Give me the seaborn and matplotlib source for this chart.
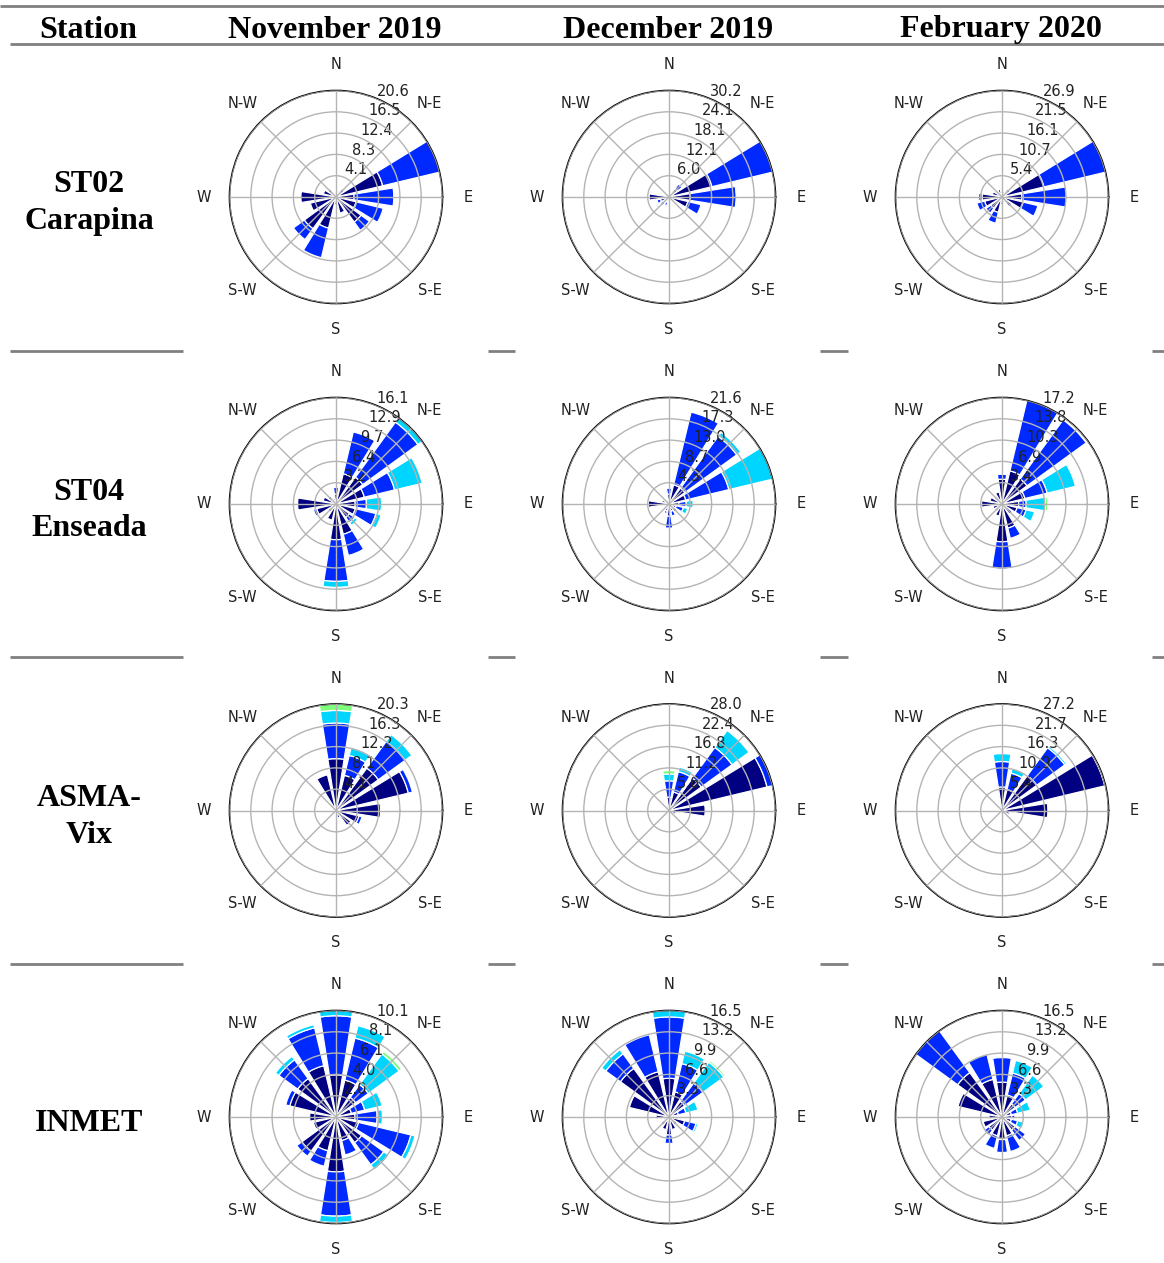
import numpy as np
import matplotlib
matplotlib.use("Agg")
import matplotlib.pyplot as plt
from matplotlib.lines import Line2D
import seaborn as sns

# ---------------------------------------------------------------- data
months = ["November 2019", "December 2019", "February 2020"]
stations = [["ST02", "Carapina"], ["ST04", "Enseada"], ["ASMA-", "Vix"], ["INMET"]]
sectors = ["N", "NNE", "NE", "ENE", "E", "ESE", "SE", "SSE",
           "S", "SSW", "SW", "WSW", "W", "WNW", "NW", "NNW"]
compass_labels = ["E", "N-E", "N", "N-W", "W", "S-W", "S", "S-E"]

# frequency (%) per wind-speed class, 16 sectors clockwise from N
st02_nov = [
    [0.8, 1.0, 2.0, 9.3, 3.5, 4.0, 6.0, 3.2, 1.5, 6.2, 7.6, 5.1, 6.8, 2.5, 2.0, 0.8],
    [0.0, 0.0, 0.0, 11.34, 7.7, 5.4, 2.0, 0.0, 0.0, 5.9, 2.6, 0.0, 0.0, 0.0, 0.0, 0.0],
]
st02_dec = [
    [0.5, 1.5, 3.0, 12.5, 6.0, 5.5, 1.5, 1.0, 1.0, 1.5, 2.0, 2.5, 5.6, 1.5, 0.8, 0.5],
    [0.0, 0.0, 1.5, 17.67, 13.0, 3.8, 0.0, 0.0, 0.0, 1.0, 1.0, 1.0, 0.0, 0.0, 0.0, 0.0],
]
st02_feb = [
    [1.0, 1.5, 2.5, 10.9, 5.0, 5.5, 3.0, 1.5, 2.0, 4.0, 3.5, 4.5, 5.0, 2.5, 2.0, 2.0],
    [0.0, 0.0, 0.0, 15.96, 11.2, 3.8, 0.0, 0.0, 0.0, 2.8, 1.5, 2.0, 0.9, 0.0, 0.0, 0.0],
]
st04_nov = [
    [1.5, 4.7, 5.0, 4.4, 2.9, 3.0, 2.5, 4.7, 5.4, 2.5, 1.5, 3.0, 5.8, 2.0, 1.5, 1.0],
    [1.0, 6.5, 10.3, 4.7, 1.7, 3.2, 1.0, 3.3, 6.3, 0.0, 0.0, 0.5, 0.0, 0.0, 0.0, 0.0],
    [0.0, 0.0, 0.8, 4.3, 2.3, 0.8, 0.5, 0.0, 0.9, 0.0, 0.0, 0.0, 0.0, 0.0, 0.0, 0.0],
    [0.0, 0.0, 0.0, 0.0, 0.2, 0.0, 0.0, 0.0, 0.0, 0.0, 0.0, 0.0, 0.0, 0.0, 0.0, 0.0],
]
st04_dec = [
    [2.0, 4.0, 4.0, 3.5, 2.0, 1.5, 2.0, 1.5, 2.5, 1.5, 1.0, 1.0, 4.2, 1.5, 1.0, 1.0],
    [1.2, 15.2, 13.0, 9.0, 1.5, 1.5, 0.0, 1.0, 2.4, 0.5, 0.0, 0.0, 0.0, 0.0, 0.0, 0.0],
    [0.0, 0.0, 1.0, 9.14, 1.4, 0.9, 0.0, 0.0, 0.0, 0.0, 0.0, 0.0, 0.0, 0.0, 0.0, 0.0],
]
st04_feb = [
    [4.0, 5.5, 5.0, 3.8, 2.7, 2.5, 2.0, 4.0, 6.1, 2.0, 1.5, 1.5, 3.3, 2.0, 1.5, 2.0],
    [0.8, 11.7, 11.8, 3.7, 1.2, 1.5, 0.0, 1.7, 4.4, 0.0, 0.0, 0.0, 0.0, 0.0, 0.0, 0.0],
    [0.0, 0.0, 0.0, 4.7, 3.1, 1.4, 0.0, 0.0, 0.0, 0.0, 0.0, 0.0, 0.0, 0.0, 0.0, 0.0],
    [0.0, 0.0, 0.0, 0.0, 0.4, 0.0, 0.0, 0.0, 0.0, 0.0, 0.0, 0.0, 0.0, 0.0, 0.0, 0.0],
]
asma_nov = [
    [9.9, 6.9, 10.0, 14.2, 8.5, 4.5, 3.5, 1.5, 0.5, 0.3, 0.3, 0.3, 0.3, 0.5, 0.8, 7.0],
    [6.8, 3.9, 6.3, 0.8, 0.0, 0.6, 0.0, 0.0, 0.0, 0.0, 0.0, 0.0, 0.0, 0.0, 0.0, 0.0],
    [2.4, 1.6, 1.6, 0.0, 0.0, 0.0, 0.0, 0.0, 0.0, 0.0, 0.0, 0.0, 0.0, 0.0, 0.0, 0.0],
    [1.23, 0.0, 0.0, 0.0, 0.0, 0.0, 0.0, 0.0, 0.0, 0.0, 0.0, 0.0, 0.0, 0.0, 0.0, 0.0],
]
asma_dec = [
    [3.5, 5.0, 10.5, 26.5, 9.5, 2.0, 1.0, 0.5, 0.3, 0.3, 0.3, 0.3, 0.3, 0.5, 0.8, 1.5],
    [4.3, 5.5, 10.0, 1.5, 0.0, 0.0, 0.0, 0.0, 0.0, 0.0, 0.0, 0.0, 0.0, 0.0, 0.0, 0.0],
    [1.8, 1.2, 5.5, 0.0, 0.0, 0.0, 0.0, 0.0, 0.0, 0.0, 0.0, 0.0, 0.0, 0.0, 0.0, 0.0],
    [0.9, 0.0, 0.0, 0.0, 0.0, 0.0, 0.0, 0.0, 0.0, 0.0, 0.0, 0.0, 0.0, 0.0, 0.0, 0.0],
]
asma_feb = [
    [6.0, 5.5, 11.0, 26.97, 11.7, 2.0, 1.0, 0.5, 0.3, 0.3, 0.3, 0.3, 0.3, 0.5, 1.0, 1.5],
    [6.5, 4.3, 8.8, 0.2, 0.0, 0.0, 0.0, 0.0, 0.0, 0.0, 0.0, 0.0, 0.0, 0.0, 0.0, 0.0],
    [2.0, 1.2, 0.5, 0.0, 0.0, 0.0, 0.0, 0.0, 0.0, 0.0, 0.0, 0.0, 0.0, 0.0, 0.0, 0.0],
]
inmet_nov = [
    [4.0, 3.6, 2.3, 1.5, 1.8, 2.2, 3.0, 2.3, 5.2, 3.3, 4.0, 2.2, 2.5, 4.5, 4.5, 5.0],
    [5.6, 4.1, 1.5, 1.3, 2.1, 5.1, 2.6, 1.4, 4.2, 1.5, 0.6, 0.0, 0.0, 0.4, 2.2, 3.7],
    [0.5, 1.2, 3.6, 1.7, 0.5, 0.4, 0.6, 0.0, 0.6, 0.0, 0.0, 0.0, 0.0, 0.0, 0.4, 0.3],
    [0.0, 0.0, 0.3, 0.0, 0.0, 0.0, 0.0, 0.0, 0.0, 0.0, 0.0, 0.0, 0.0, 0.0, 0.0, 0.0],
]
inmet_dec = [
    [6.0, 4.0, 3.0, 1.5, 0.8, 2.5, 1.5, 2.0, 2.8, 2.0, 1.5, 1.0, 2.0, 6.3, 9.3, 7.2],
    [9.5, 4.5, 3.5, 1.2, 0.0, 1.8, 0.0, 0.0, 1.3, 0.0, 0.0, 0.0, 0.0, 0.0, 2.8, 5.9],
    [1.0, 2.0, 4.0, 1.9, 0.0, 0.3, 0.0, 0.0, 0.0, 0.0, 0.0, 0.0, 0.0, 0.0, 0.8, 0.0],
    [0.0, 0.0, 0.3, 0.0, 0.0, 0.0, 0.0, 0.0, 0.0, 0.0, 0.0, 0.0, 0.0, 0.0, 0.0, 0.0],
]
inmet_feb = [
    [5.4, 3.5, 2.5, 1.5, 1.5, 1.5, 2.5, 3.0, 3.5, 3.0, 2.5, 3.0, 2.0, 7.0, 8.5, 6.0],
    [3.8, 3.5, 2.0, 1.0, 0.5, 1.0, 2.0, 2.5, 2.0, 2.0, 1.0, 0.0, 0.0, 0.0, 8.0, 4.0],
    [0.0, 2.0, 3.5, 2.0, 0.0, 1.0, 0.0, 0.0, 0.0, 0.0, 0.0, 0.0, 0.0, 0.0, 0.0, 0.0],
]

roses = [
    [st02_nov, st02_dec, st02_feb],
    [st04_nov, st04_dec, st04_feb],
    [asma_nov, asma_dec, asma_feb],
    [inmet_nov, inmet_dec, inmet_feb],
]

# ---------------------------------------------------------------- style
sns.set_theme(style="white")
plt.rcParams["font.family"] = ["DejaVu Sans"]
speed_colors = plt.get_cmap("jet")(np.linspace(0, 1, 7))

W, H = 1164, 1263
fig = plt.figure(figsize=(W / 100, H / 100), dpi=100)
serif = "Liberation Serif"
rule_color = "#808080"


def hline(y, x0, x1, lw=2.0):
    fig.add_artist(Line2D([x0 / W, x1 / W], [1 - y / H, 1 - y / H],
                          color=rule_color, lw=lw, solid_capstyle="butt"))


def draw_rose(ax, table, opening=0.8):
    table = np.asarray(table, dtype=float)
    nsector = table.shape[1]
    dtheta = 2 * np.pi / nsector
    angles = np.pi / 2 - np.arange(nsector) * dtheta
    offset = np.zeros(nsector)
    for j, row in enumerate(table):
        keep = row > 0
        ax.bar(angles[keep], row[keep], width=opening * dtheta,
               bottom=offset[keep], color=speed_colors[j],
               edgecolor="white", linewidth=0.9, zorder=1)
        offset += row
    rmax = offset.max()
    ax.set_ylim(0, rmax)
    radii = np.linspace(0, rmax, 6)[1:]
    ax.set_rgrids(radii, labels=[f"{r:.1f}" for r in radii], angle=67.5,
                  fontsize=10.5, color="#222222")
    ax.set_thetagrids(np.arange(0, 360, 45), labels=compass_labels,
                      fontsize=10.5, color="#222222")
    ax.tick_params(axis="x", pad=5.5)
    ax.set_axisbelow(False)
    ax.grid(True, color="#b4b4b4", linewidth=1.0, zorder=1.5)
    ax.spines["polar"].set_color("black")
    ax.spines["polar"].set_linewidth(1.2)
    ax.set_facecolor("white")


# ---------------------------------------------------------------- table rules
hline(6, 0, W)
hline(44, 10, W)
for y in (351, 657, 964):
    for x0, x1 in ((10, 183), (488, 515), (820, 848), (1152, 1164)):
        hline(y, x0, x1)

# ---------------------------------------------------------------- headers
header_x = [88, 335, 668, 1001]
for x, txt in zip(header_x, ["Station"] + months):
    fig.text(x / W, 1 - 30 / H, txt, ha="center", va="center",
             fontsize=23, fontweight="bold", family=serif, color="black")

col_cx = [336, 669, 1002]
row_cy = [197, 504, 810.5, 1117]
R = 106.5

for r, cy in enumerate(row_cy):
    lines = stations[r]
    step = 37
    y0 = cy + 6.5 - step * (len(lines) - 1) / 2
    for k, txt in enumerate(lines):
        fig.text(89 / W, 1 - (y0 + k * step) / H, txt, ha="center", va="center",
                 fontsize=23, fontweight="bold", family=serif, color="black")
    for c, cx in enumerate(col_cx):
        ax = fig.add_axes([(cx - R) / W, 1 - (cy + R) / H, 2 * R / W, 2 * R / H],
                          projection="polar")
        draw_rose(ax, roses[r][c])

fig.savefig("out.png", dpi=100, facecolor="white")
